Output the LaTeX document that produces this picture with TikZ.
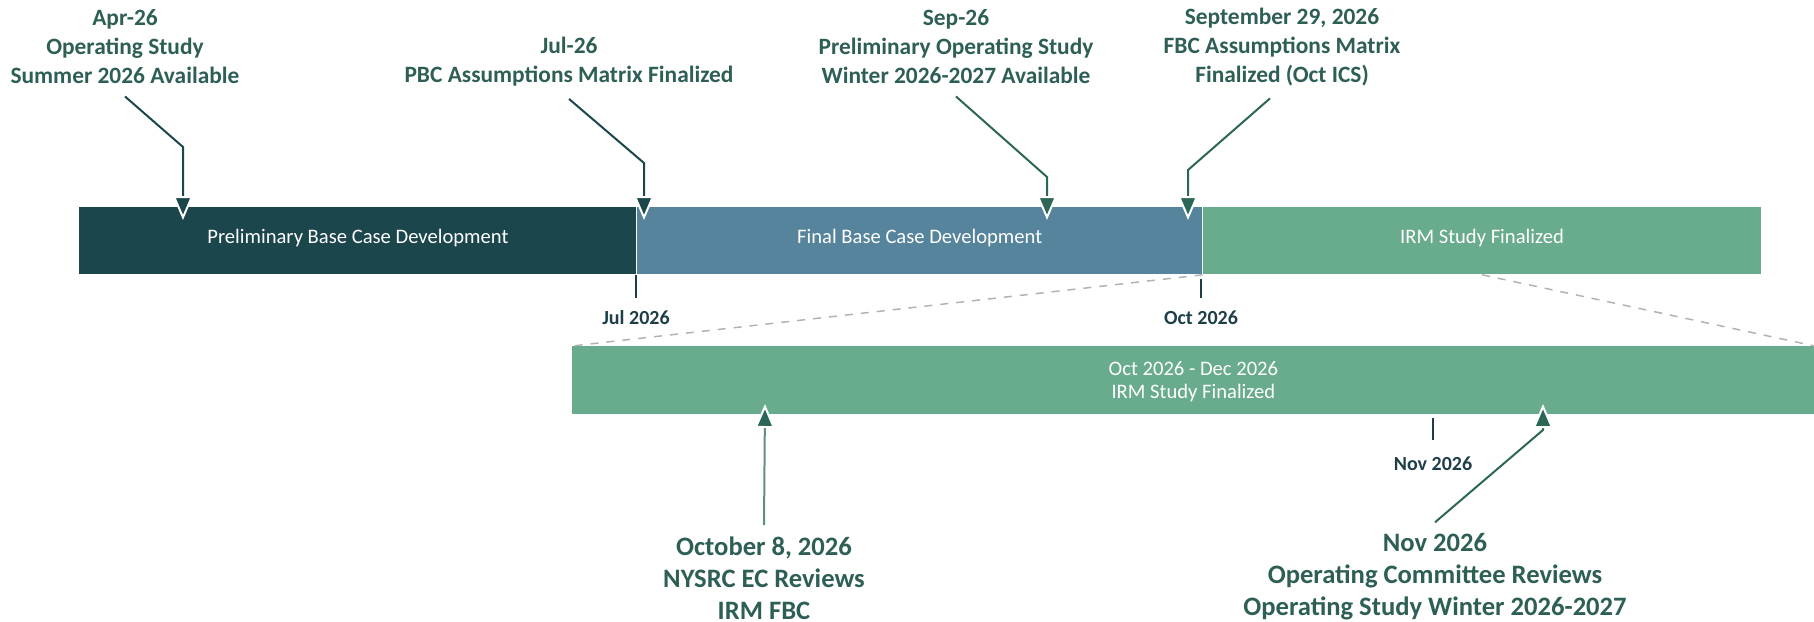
\documentclass[tikz,border=0pt]{standalone}
\usepackage{fontspec}
\setmainfont{Carlito}
\usepackage{tikz}
\usetikzlibrary{positioning,arrows.meta}

\definecolor{dkteal}{HTML}{1B464B}
\definecolor{steel}{HTML}{55849C}
\definecolor{sage}{HTML}{69AB8D}
\definecolor{dkgreen}{HTML}{2B6656}
\definecolor{lblgreen}{HTML}{2E5F56}
\definecolor{tickdark}{HTML}{1E3F47}
\definecolor{paleline}{HTML}{5E8F86}

\begin{document}
\begin{tikzpicture}[x=0.5pt, y=-0.5pt,
	bar/.style={rectangle, draw=none, anchor=north west, inner sep=0pt,
		minimum height=33.5pt, text=white, align=center,
		font=\fontsize{10.3}{11.5}\selectfont},
	segment/.style={bar, text depth=5pt},
	event/.style={text=lblgreen, align=center, inner sep=0pt,
		font=\bfseries\fontsize{11.7}{14.5}\selectfont},
	review/.style={text=lblgreen, align=center, inner sep=0pt,
		font=\bfseries\fontsize{13.3}{16}\selectfont},
	datelbl/.style={text=tickdark, inner sep=0pt,
		font=\bfseries\fontsize{10}{12}\selectfont},
	pointer/.style={draw=#1, line width=1pt,
		-{Triangle[color=white, fill=#1, width=10pt, length=12pt, line width=1pt]}},
	tick/.style={draw=tickdark, line width=0.75pt},
	zoomline/.style={draw=black!30, line width=0.75pt, dash pattern=on 4pt off 4pt}
	]
	\useasboundingbox (0,0) rectangle (1814,621);

	% main timeline
	\node (prelim) [segment, fill=dkteal, minimum width=278.5pt] at (79,207) {Preliminary Base Case Development};
	\node (final) [segment, fill=steel, minimum width=282.5pt, right=0pt of prelim] {Final Base Case Development};
	\node (irm) [segment, fill=sage, minimum width=279pt, right=0pt of final] {IRM Study Finalized};

	% zoomed part
	\node (zoom) [bar, fill=sage, minimum width=621pt, minimum height=34pt, text depth=0pt] at (572,346) {Oct 2026 - Dec 2026\\IRM Study Finalized};
	\draw[zoomline] (irm.south west) -- (zoom.north west);
	\draw[zoomline] (irm.south) -- (zoom.north east);

	% ticks
	\node (jul26) [datelbl] at (636,318) {Jul 2026};
	\node (oct26) [datelbl] at (1201,318) {Oct 2026};
	\node (nov26) [datelbl] at (1433,464) {Nov 2026};
	\draw[tick] (jul26.north |- prelim.south) -- ++(0,23);
	\draw[tick] (oct26.north |- irm.south) ++(0,4) -- ++(0,19);
	\draw[tick] (nov26.north |- zoom.south) ++(0,3) -- ++(0,22);

	% milestones above
	\node (apr) [event] at (125,47) {Apr-26\\Operating Study\\Summer 2026 Available};
	\node (jul) [event] at (569,62) {Jul-26\\PBC Assumptions Matrix Finalized};
	\node (sep) [event] at (956,47) {Sep-26\\Preliminary Operating Study\\Winter 2026-2027 Available};
	\node (s29) [event] at (1282,47) {September 29, 2026\\FBC Assumptions Matrix\\Finalized (Oct ICS)};

	\coordinate (aprtip) at (183,220);
	\coordinate (jultip) at (644,220);
	\coordinate (septip) at (1047,220);
	\coordinate (s29tip) at (1188,220);

	\draw[pointer=dkteal] ([yshift=-6pt]apr.south) -- (aprtip |- 0,147) -- (aprtip);
	\draw[pointer=dkteal] ([yshift=-6pt]jul.south) -- (jultip |- 0,163) -- (jultip);
	\draw[pointer=dkgreen] ([yshift=-6pt]sep.south) -- (septip |- 0,177) -- (septip);
	\draw[pointer=dkgreen] ([xshift=-6pt,yshift=-6pt]s29.south) -- (s29tip |- 0,170) -- (s29tip);

	% milestones below
	\node (oct8) [review] at (764,578) {October 8, 2026\\NYSRC EC Reviews\\IRM FBC};
	\node (nov) [review] at (1435,577) {Nov 2026\\Operating Committee Reviews\\Operating Study Winter 2026-2027};

	\coordinate (oct8tip) at (765,404);
	\coordinate (novtip) at (1543,404);

	\draw[pointer=dkgreen, draw=paleline] ([yshift=5.5pt]oct8.north) -- (oct8tip);
	\draw[pointer=dkgreen] ([yshift=5.5pt]nov.north) -- (novtip |- 0,430) -- (novtip);
\end{tikzpicture}
\end{document}
